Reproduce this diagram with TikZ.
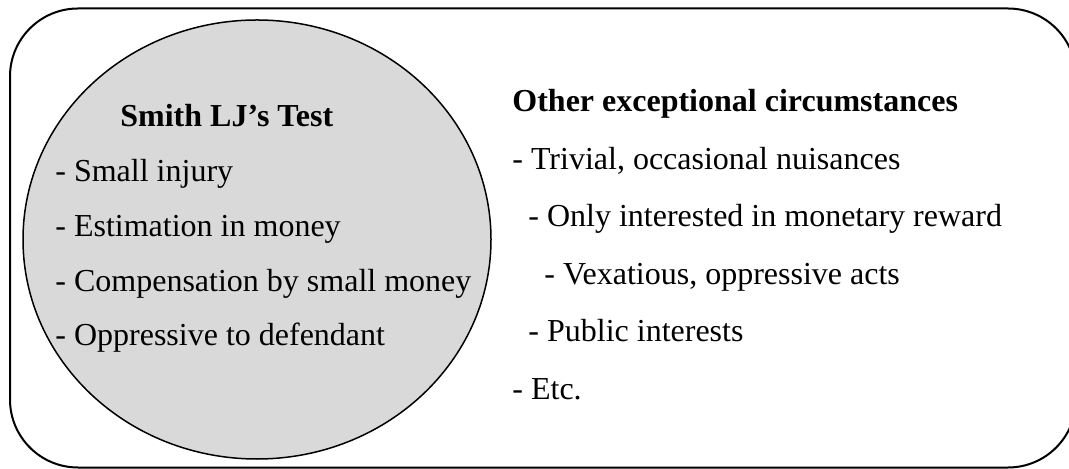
\documentclass[tikz,border=0pt]{standalone}
\usepackage{fontspec}
\setmainfont{Liberation Serif}
\definecolor{testgray}{HTML}{D9D9D9}
\tikzset{
  itemtxt/.style={anchor=base west, inner sep=0pt, font=\fontsize{16}{19}\selectfont},
  headtxt/.style={itemtxt, font=\fontsize{16}{19}\selectfont\bfseries}
}
\begin{document}
\begin{tikzpicture}[x=0.5pt,y=-0.5pt]
\useasboundingbox (0,0) rectangle (1069,469);
\clip (0,0) rectangle (1069,469);
% Marco
\draw[line width=1pt, rounded corners=34pt] (10,8.5) rectangle (1076,467.5);
% Prueba de Smith LJ
\filldraw[fill=testgray, line width=0.75pt] (257,239.5) ellipse [x radius=234, y radius=219.5];
\node[headtxt] (smith) at (120,127) {Smith LJ’s Test};
\node[itemtxt] (injury) at (55,182) {- Small injury};
\node[itemtxt] (estim) at (55,237) {- Estimation in money};
\node[itemtxt] (comp) at (55,292) {- Compensation by small money};
\node[itemtxt] (oppr) at (55,346) {- Oppressive to defendant};
% Otras circunstancias
\node[headtxt] (other) at (512,112) {Other exceptional circumstances};
\node[itemtxt] (trivial) at (512,170) {- Trivial, occasional nuisances};
\node[itemtxt] (monetary) at (528,227) {- Only interested in monetary reward};
\node[itemtxt] (vexat) at (544,285) {- Vexatious, oppressive acts};
\node[itemtxt] (public) at (528,342) {- Public interests};
\node[itemtxt] (etc) at (512,400) {- Etc.};
\end{tikzpicture}
\end{document}
